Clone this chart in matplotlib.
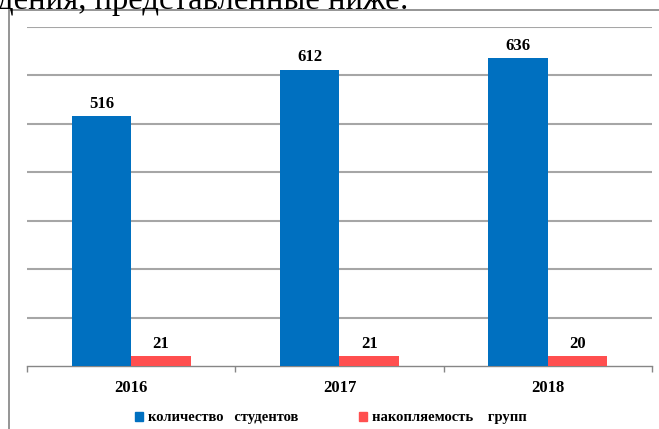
import numpy as np
import matplotlib.pyplot as plt
from matplotlib.patches import Patch, Rectangle

# ==========================================
# Data
# ==========================================

years = ["2016", "2017", "2018"]
students = [516, 612, 636]
groups = [21, 21, 20]

series_names = ["количество   студентов", "накопляемость    групп"]
page_text = "дения, представленные ниже:"

BLUE = "#0070C0"
RED = "#FF4F4F"
GRID = "#A6A6A6"

plt.rcParams["font.family"] = ["Liberation Serif", "DejaVu Serif"]

# ==========================================
# Figure
# ==========================================

fig = plt.figure(figsize=(6.59, 4.29), dpi=100)
W, H = 659, 429

# chart frame (runs off the right/bottom edge of the crop)
frame = Rectangle((9 / W, -0.1), 1.2, (H - 10) / H + 0.1,
                  transform=fig.transFigure, fill=False,
                  edgecolor="#8C8C8C", linewidth=1.3)
fig.patches.append(frame)

fig.text(-0.004, (H - 9) / H, page_text, fontsize=23.5, va="baseline", ha="left")

ax = fig.add_axes([27 / W, (H - 366) / H, (652 - 27) / W, (366 - 27) / H])

x = np.arange(len(years))
w = 0.286

b1 = ax.bar(x - w / 2, students, w, color=BLUE, zorder=3)
b2 = ax.bar(x + w / 2, groups, w, color=RED, zorder=3)

for bars, vals in [(b1, students), (b2, groups)]:
    for rect, v in zip(bars, vals):
        ax.annotate(str(v),
                    (rect.get_x() + rect.get_width() / 2, rect.get_height()),
                    xytext=(0, 3), textcoords="offset points",
                    ha="center", va="bottom", fontsize=12, fontweight="bold")

ax.set_xlim(-0.5, len(years) - 0.5)
ax.set_ylim(0, 700)
ax.set_yticks(np.arange(100, 701, 100))
ax.yaxis.grid(True, color=GRID, linewidth=1.5, zorder=0)
ax.tick_params(axis="y", length=0, labelleft=False)

ax.set_xticks(x)
ax.set_xticklabels(years, fontsize=12, fontweight="bold")
ax.set_xticks(np.arange(-0.5, len(years), 1), minor=True)
ax.tick_params(axis="x", which="major", length=0, pad=10)
ax.tick_params(axis="x", which="minor", length=4, color="#868686", width=1)

for side in ["top", "right", "left"]:
    ax.spines[side].set_visible(False)
ax.spines["bottom"].set_color("#868686")
ax.spines["bottom"].set_linewidth(1)

handles = [Patch(color=BLUE), Patch(color=RED)]
fig.legend(handles, series_names, loc="center", bbox_to_anchor=(0.502, 11 / H),
           ncol=2, frameon=False, handlelength=0.55, handleheight=0.55,
           handletextpad=0.3, columnspacing=4.2,
           prop={"size": 10.5, "weight": "bold"})

fig.savefig("out.png", dpi=100)
